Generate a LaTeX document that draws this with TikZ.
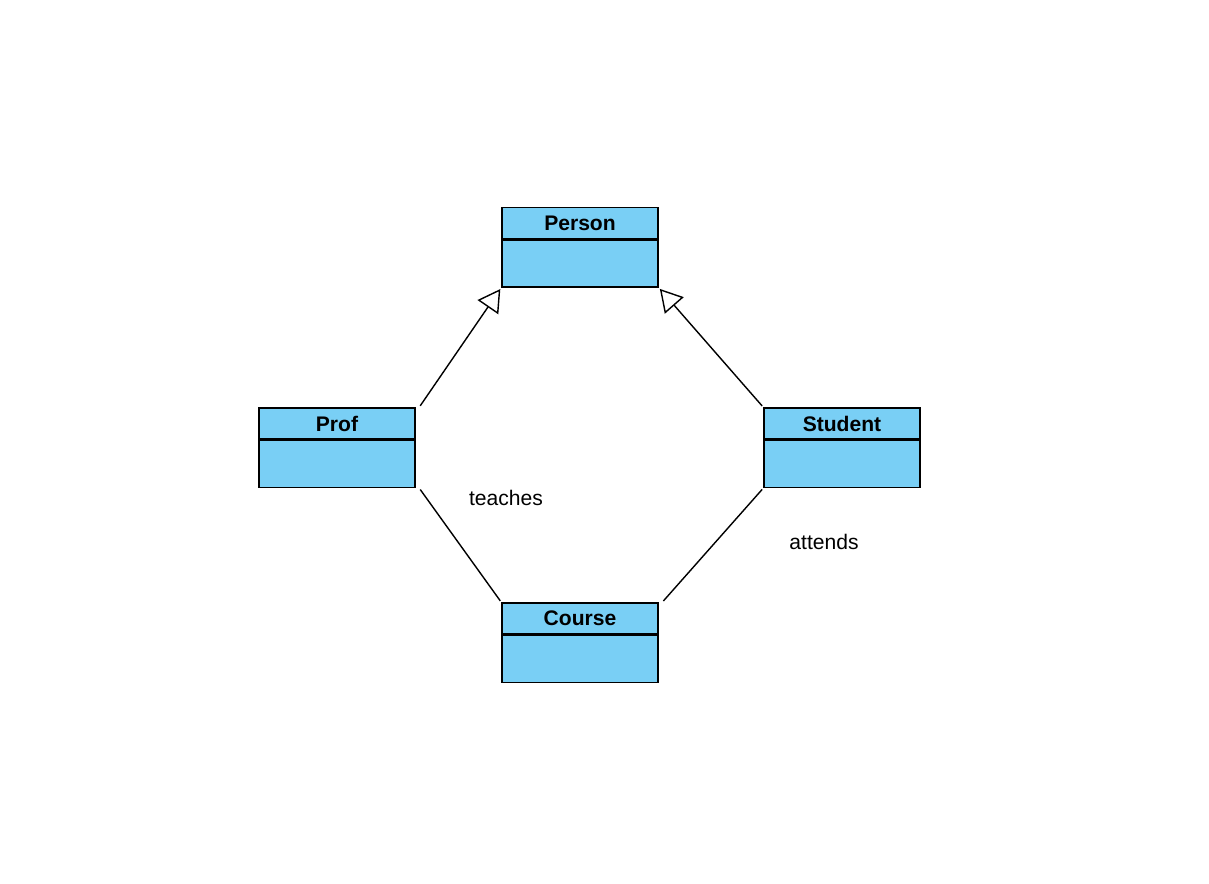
\documentclass[tikz,border=0pt]{standalone}
\usepackage{fontspec}
\setmainfont{Liberation Sans}
\usetikzlibrary{arrows.meta, positioning}
\definecolor{classblue}{RGB}{121,207,245}

\begin{document}
\begin{tikzpicture}[x=0.02cm, y=-0.02cm, font=\fontsize{12}{14}\selectfont,
   head/.style={draw, fill=classblue, line width=0.8pt, minimum width=3.12cm, minimum height=0.62cm, inner sep=0pt, font=\fontsize{12}{14}\selectfont\bfseries},
   body/.style={draw, fill=classblue, line width=0.8pt, minimum width=3.12cm, minimum height=0.94cm, inner sep=0pt},
   link/.style={line width=0.8pt, shorten <=1pt, shorten >=1pt},
   isa/.style={link, -{Triangle[open, fill=white, length=4.4mm, width=5mm]}}]
\useasboundingbox (0,0) rectangle (1209,884);
% classes
\node[head] (person) at (580,223) {Person};
\node[body, below=0pt of person] (person-b) {};
\node[head] (prof) at (337,423.5) {Prof};
\node[body, below=0pt of prof] (prof-b) {};
\node[head] (student) at (842,423.5) {Student};
\node[body, below=0pt of student] (student-b) {};
\node[head] (course) at (580,618.5) {Course};
\node[body, below=0pt of course] (course-b) {};
% generalisation
\draw[isa] ([xshift=2pt]prof.north east) -- (person-b.south west);
\draw[isa] (student.north west) -- (person-b.south east);
% associations
\draw[link] ([xshift=2pt]prof-b.south east) -- (course.north west);
\draw[link] (student-b.south west) -- ([xshift=2pt]course.north east);
\node (teaches) at (506,498) {teaches};
\node (attends) at (824,542) {attends};
\end{tikzpicture}
\end{document}
